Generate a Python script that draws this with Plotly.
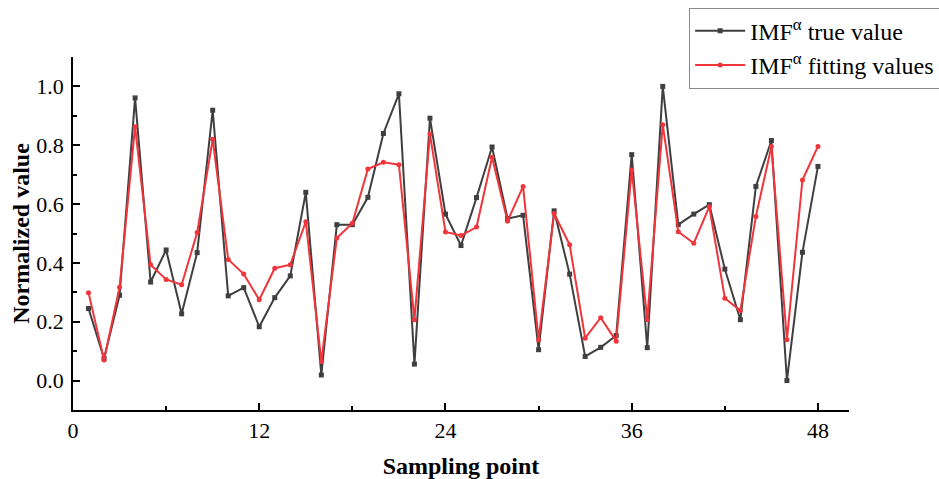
import plotly.graph_objects as go

# Sampling points 1..48
sampling_point = list(range(1, 49))

# IMF^alpha true (normalized) values
true_value = [
    0.245, 0.075, 0.290, 0.961, 0.335, 0.444, 0.227, 0.435, 0.919, 0.288,
    0.316, 0.183, 0.282, 0.356, 0.640, 0.019, 0.530, 0.530, 0.623, 0.840,
    0.975, 0.056, 0.892, 0.566, 0.459, 0.622, 0.794, 0.551, 0.562, 0.105,
    0.577, 0.362, 0.082, 0.113, 0.153, 0.768, 0.112, 1.000, 0.530, 0.566,
    0.598, 0.379, 0.207, 0.660, 0.816, 0.000, 0.436, 0.728,
]

# IMF^alpha fitted values
fitting_value = [
    0.299, 0.070, 0.317, 0.863, 0.394, 0.344, 0.326, 0.503, 0.820, 0.412,
    0.362, 0.275, 0.382, 0.394, 0.540, 0.065, 0.485, 0.535, 0.719, 0.742,
    0.734, 0.207, 0.838, 0.505, 0.493, 0.522, 0.759, 0.542, 0.660, 0.139,
    0.568, 0.462, 0.144, 0.214, 0.134, 0.716, 0.207, 0.870, 0.506, 0.467,
    0.591, 0.280, 0.238, 0.558, 0.796, 0.139, 0.682, 0.796,
]

x_ticks = [0, 12, 24, 36, 48]
y_ticks = [0.0, 0.2, 0.4, 0.6, 0.8, 1.0]

FONT = "Liberation Serif"
BLACK = "#3f3f3f"
RED = "#f0353b"

fig = go.Figure()
fig.add_trace(go.Scatter(
    x=sampling_point, y=true_value, mode="lines+markers",
    name="IMF<sup>α</sup> true value",
    line=dict(color=BLACK, width=2),
    marker=dict(symbol="square", size=5, color=BLACK),
))
fig.add_trace(go.Scatter(
    x=sampling_point, y=fitting_value, mode="lines+markers",
    name="IMF<sup>α</sup> fitting values",
    line=dict(color=RED, width=2),
    marker=dict(symbol="circle", size=5, color=RED),
))

axis_common = dict(
    showline=True, linecolor="#000000", linewidth=1.5,
    ticks="inside", ticklen=7, tickwidth=1.5, tickcolor="#000000",
    showgrid=False, zeroline=False, automargin=False,
    tickfont=dict(family=FONT, size=22, color="#000000"),
)

fig.update_xaxes(
    range=[0, 50], tickvals=x_ticks, ticktext=[str(v) for v in x_ticks],
    minor=dict(dtick=6, tick0=0, ticks="inside", ticklen=4, tickwidth=1.5, tickcolor="#000000"),
    title=dict(text="<b>Sampling point</b>", font=dict(family=FONT, size=24, color="#000000"), standoff=17),
    ticklabelstandoff=0,
    **axis_common,
)
fig.update_yaxes(
    range=[-0.1, 1.1], tickvals=y_ticks, ticktext=[f"{v:.1f}" for v in y_ticks],
    minor=dict(dtick=0.1, tick0=0, ticks="inside", ticklen=4, tickwidth=1.5, tickcolor="#000000"),
    title=dict(text="<b>Normalized value</b>", font=dict(family=FONT, size=24, color="#000000"), standoff=0),
    ticklabelstandoff=3,
    **axis_common,
)

fig.update_layout(
    width=939, height=479,
    margin=dict(l=73, r=90, t=57, b=69, autoexpand=False),
    paper_bgcolor="white", plot_bgcolor="white",
    font=dict(family=FONT, color="#000000"),
    showlegend=True,
    legend=dict(
        x=0.794, y=1.14, xanchor="left", yanchor="top",
        bgcolor="white", bordercolor="#8a8a8a", borderwidth=1,
        font=dict(family=FONT, size=24, color="#000000"),
        itemwidth=50, tracegroupgap=0,
    ),
)

fig.write_html("out.html")
